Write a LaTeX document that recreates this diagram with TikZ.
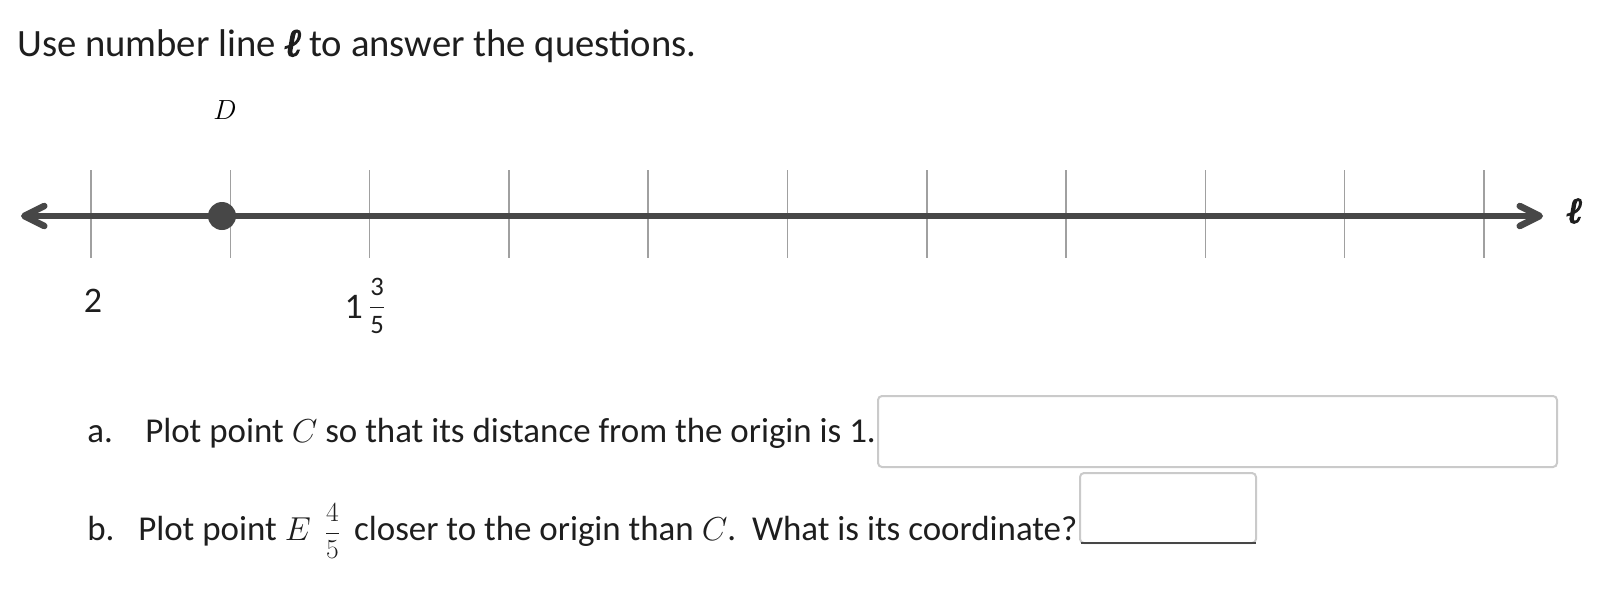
\documentclass[tikz,border=0pt]{standalone}
\usepackage{amsmath}
\usepackage[no-math]{fontspec}
\setmainfont{Carlito}
\newfontfamily\ellfont[FakeBold=4]{Liberation Serif}
\usetikzlibrary{arrows.meta,positioning}
\definecolor{linegray}{HTML}{474747}
\definecolor{tickgray}{HTML}{A0A0A0}
\definecolor{boxgray}{HTML}{CACACA}
\definecolor{textgray}{HTML}{1E1E1E}
\newcommand{\smallfrac}[2]{{\fontsize{20}{24}\selectfont$\dfrac{#1}{#2}$}}
\newcommand{\ellsym}{{\ellfont\itshape ℓ}}
\tikzset{
  numline/.style={draw=linegray, line width=4.9pt,
    {Straight Barb[length=15pt, width=15pt, line cap=round, line join=round]}-{Straight Barb[length=15pt, width=15pt, line cap=round, line join=round]}},
  tickmark/.style={draw=tickgray, line width=1.1pt},
  answerbox/.style={draw=boxgray, line width=1.5pt, rounded corners=3pt},
  txt/.style={inner sep=0pt, text=textgray, anchor=base west},
  qfont/.style={font=\fontsize{26.2}{30}\selectfont},
}
\begin{document}
\begin{tikzpicture}[x=0.75pt, y=-0.75pt]
\useasboundingbox (0,0) rectangle (1612,594);
% Heading
\node[txt, font=\fontsize{29}{34}\selectfont] (title) at (17,56)
  {Use number line \ellsym\ to answer the questions.};
% Ticks of the number line
\foreach \i in {0,...,10} {
  \coordinate (tick\i) at (91+139.3*\i,216);
  \draw[tickmark] (91+139.3*\i,170) -- (91+139.3*\i,258);
}
% Number line with arrows both ways
\coordinate (lineL) at (21,216);
\coordinate (lineR) at (1543,216);
\draw[numline] (lineL) -- (lineR);
\node[font=\fontsize{27}{30}\selectfont, inner sep=0pt, text=textgray] (ell) at (1574,211) {\ellsym};
% Point D
\node[circle, fill=linegray, minimum size=21pt, inner sep=0pt] (pointD) at (222,216) {};
\node[font=\fontsize{20}{24}\selectfont, inner sep=0pt] (labelD) at (225,110) {$D$};
% Labels under the ticks
\node[txt, anchor=base, font=\fontsize{27}{32}\selectfont] (two) at (93,312) {2};
\node[txt, anchor=base, font=\fontsize{27}{32}\selectfont] (mixed) at (365,318)
  {1\,\raisebox{2.5pt}{\smallfrac{\text{3}}{\text{5}}}};
% Questions
\node[txt, qfont] (qa) at (87,442) {a.};
\node[txt, qfont] (qatext) at (145,442)
  {Plot point $C$ so that its distance from the origin is 1.};
\node[txt, qfont] (qb) at (87,540) {b.};
\node[txt, qfont] (qbtext) at (138,540)
  {Plot point $E$\,\ \smallfrac{4}{5}\,\ closer to the origin than $C$.\ \ What is its coordinate?};
% Answer boxes
\draw[answerbox] (878,396) rectangle (1557,467);
\draw[answerbox] (1080,473) rectangle (1256,543);
\draw[linegray, line width=1.5pt] (1081,543) -- (1256,543);
\end{tikzpicture}
\end{document}
